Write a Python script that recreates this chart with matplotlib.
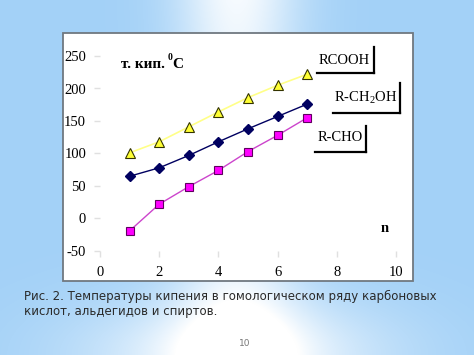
import numpy as np
import matplotlib
matplotlib.use("Agg")
import matplotlib.pyplot as plt
from matplotlib.lines import Line2D
from matplotlib.patches import Rectangle

# ---- data ----
n = [1, 2, 3, 4, 5, 6, 7]
rcooh = [101, 118, 141, 164, 186, 205, 222]
rch2oh = [65, 78, 97, 118, 138, 157, 176]
rcho = [-19, 22, 49, 74, 103, 128, 155]
xticks = [0, 2, 4, 6, 8, 10]
yticks = [-50, 0, 50, 100, 150, 200, 250]
caption1 = "Рис. 2. Температуры кипения в гомологическом ряду карбоновых"
caption2 = "кислот, альдегидов и спиртов."
page = "10"

W, H = 474, 355
fig = plt.figure(figsize=(W / 100, H / 100), dpi=100)

serif = "Liberation Serif"
plt.rcParams["mathtext.fontset"] = "custom"
plt.rcParams["mathtext.rm"] = serif

# ---- background gradient ----
bg = fig.add_axes([0, 0, 1, 1], zorder=0)
bg.set_axis_off()
xx, yy = np.meshgrid(np.linspace(0, 1, W), np.linspace(0, 1, H))
base = np.array([0.64, 0.82, 0.97])
band = np.exp(-((xx - 0.5) / 0.13) ** 2) * (0.55 + 0.45 * (1 - yy) ** 2 + 0.3 * yy ** 3)
glow = np.exp(-(((xx - 0.5) / 0.32) ** 2 + ((yy - 1.0) / 0.16) ** 2))
w = np.clip(band * 0.9 + glow * 0.85, 0, 1)
img = base[None, None, :] * (1 - w[..., None]) + w[..., None]
bg.imshow(img, extent=[0, 1, 0, 1], aspect="auto", origin="upper")
bg.set_xlim(0, 1); bg.set_ylim(0, 1)

def fx(px):
    return px / W

def fy(py):
    return 1 - py / H

# white box
fig.patches.append(Rectangle((fx(63), fy(281)), fx(413) - fx(63), fy(33) - fy(281),
                             transform=fig.transFigure, facecolor="white",
                             edgecolor="#707880", linewidth=1.3, zorder=1))

# ---- chart ----
ax = fig.add_axes([fx(100), fy(251), fx(396) - fx(100), fy(56) - fy(251)], zorder=2)
ax.patch.set_alpha(0)
for s in ax.spines.values():
    s.set_visible(False)
ax.plot(n, rcooh, color="#ffff88", lw=1.2, marker="^", ms=7.5,
        mfc="#ffff33", mec="#333300", mew=0.8, zorder=3)
ax.plot(n, rch2oh, color="#000060", lw=1.0, marker="D", ms=4.8,
        mfc="#000060", mec="#000060", zorder=3)
ax.plot(n, rcho, color="#cc44cc", lw=1.0, marker="s", ms=5.5,
        mfc="#ff00ff", mec="#600060", mew=0.8, zorder=3)
ax.set_xlim(0, 10)
ax.set_ylim(-50, 250)
ax.set_xticks(xticks)
ax.set_yticks(yticks)
ax.set_yticklabels([str(v) for v in yticks])
ax.tick_params(axis="both", colors="#e0e0e0", length=4, width=1,
               labelcolor="black", labelsize=10.5)
ax.tick_params(axis="y", pad=6)
ax.tick_params(axis="x", pad=7)
for lab in ax.get_xticklabels() + ax.get_yticklabels():
    lab.set_fontfamily(serif)

# axis annotation texts
fig.text(fx(121), fy(64), "т. кип.", fontsize=11, fontweight="bold",
         family=serif, va="center", ha="left", zorder=4)
fig.text(fx(168), fy(58), "0", fontsize=7, fontweight="bold",
         family=serif, va="center", ha="left", zorder=4)
fig.text(fx(172.5), fy(64), "C", fontsize=11, fontweight="bold",
         family=serif, va="center", ha="left", zorder=4)
fig.text(fx(385), fy(229), "n", fontsize=10.5, fontweight="bold",
         family=serif, va="center", ha="center", zorder=4)

# series label boxes with shadow lines
labels = [
    ("RCOOH", 344, 60, 317, 374, 47, 73),
    ("R-CH$_\\mathregular{2}$OH", 366, 98, 333, 400, 83, 113),
    ("R-CHO", 340, 138, 315, 366, 126, 152),
]
for txt, cx, cy, x0, x1, y0, y1 in labels:
    fig.text(fx(cx), fy(cy), txt, fontsize=10.5, family=serif,
             ha="center", va="center", zorder=4)
    fig.add_artist(Line2D([fx(x1), fx(x1)], [fy(y0), fy(y1)], color="black",
                          lw=1.6, transform=fig.transFigure, zorder=4))
    fig.add_artist(Line2D([fx(x0), fx(x1)], [fy(y1), fy(y1)], color="black",
                          lw=1.6, transform=fig.transFigure, zorder=4))

# caption
fig.text(fx(24), fy(296), caption1, fontsize=8.45, family="DejaVu Sans",
         color="#2a2a2a", ha="left", va="center", zorder=4)
fig.text(fx(24), fy(312), caption2, fontsize=8.45, family="DejaVu Sans",
         color="#2a2a2a", ha="left", va="center", zorder=4)
fig.text(fx(245), fy(344), page, fontsize=6.5, family="DejaVu Sans",
         color="#777777", ha="center", va="center", zorder=4)

fig.savefig("out.png", dpi=100)
